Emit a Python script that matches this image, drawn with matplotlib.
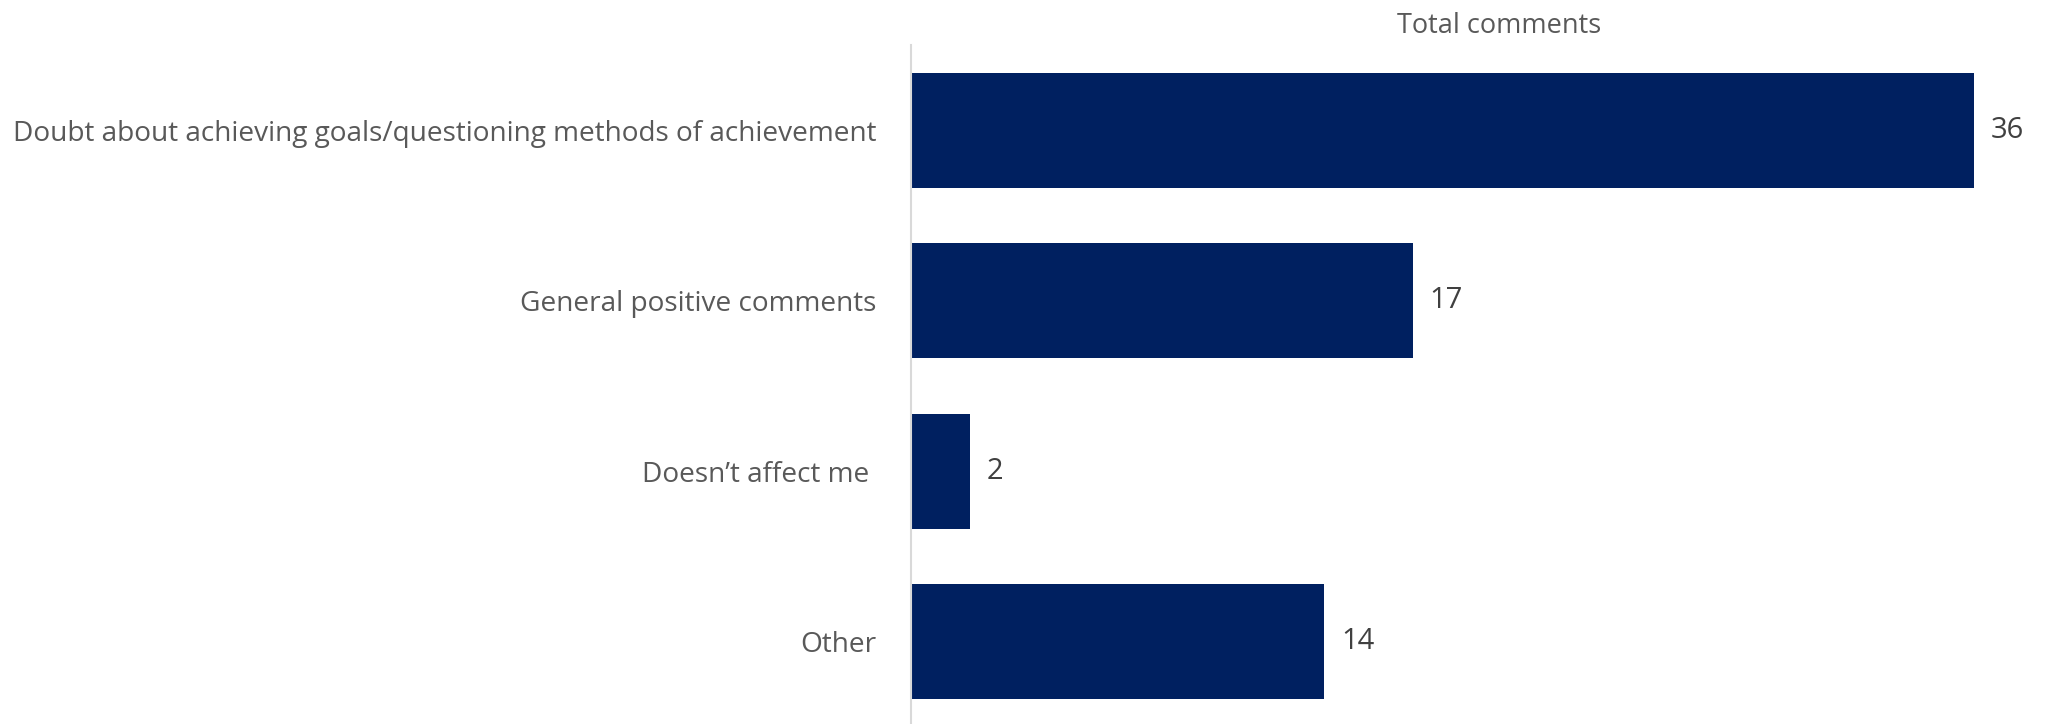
import matplotlib.pyplot as plt

# Comment categories and their counts
categories = [
    'Doubt about achieving goals/questioning methods of achievement',
    'General positive comments',
    'Doesn\u2019t affect me ',
    'Other',
]
counts = [36, 17, 2, 14]
series_name = 'Total comments'

plt.rcParams['font.family'] = ['Open Sans', 'DejaVu Sans']

fig = plt.figure(figsize=(20.49, 7.24), dpi=100)
ax = fig.add_axes([0.4446, -0.004, 0.5188, 0.942])

ypos = range(len(categories))
bars = ax.barh(ypos, counts, height=0.674, color='#002060')
ax.set_xlim(0, 36)
ax.set_ylim(len(categories) - 0.5, -0.5)

ax.set_yticks(list(ypos))
ax.set_yticklabels(categories, fontsize=20.2, color='#595959')
ax.tick_params(axis='y', length=0, pad=25)
ax.set_xticks([])

for s in ['top', 'right', 'bottom']:
    ax.spines[s].set_visible(False)
ax.spines['left'].set_color('#d9d9d9')
ax.spines['left'].set_linewidth(1.5)

# value labels at the end of each bar
for b, v in zip(bars, counts):
    ax.annotate(str(v), (b.get_width(), b.get_y() + b.get_height() / 2),
                xytext=(12, 0), textcoords='offset points',
                va='center', ha='left', fontsize=21, color='#404040',
                annotation_clip=False)

fig.text(0.7316, 0.964, series_name, ha='center', va='center',
         fontsize=19.5, color='#595959')

fig.savefig('out.png', dpi=100)
